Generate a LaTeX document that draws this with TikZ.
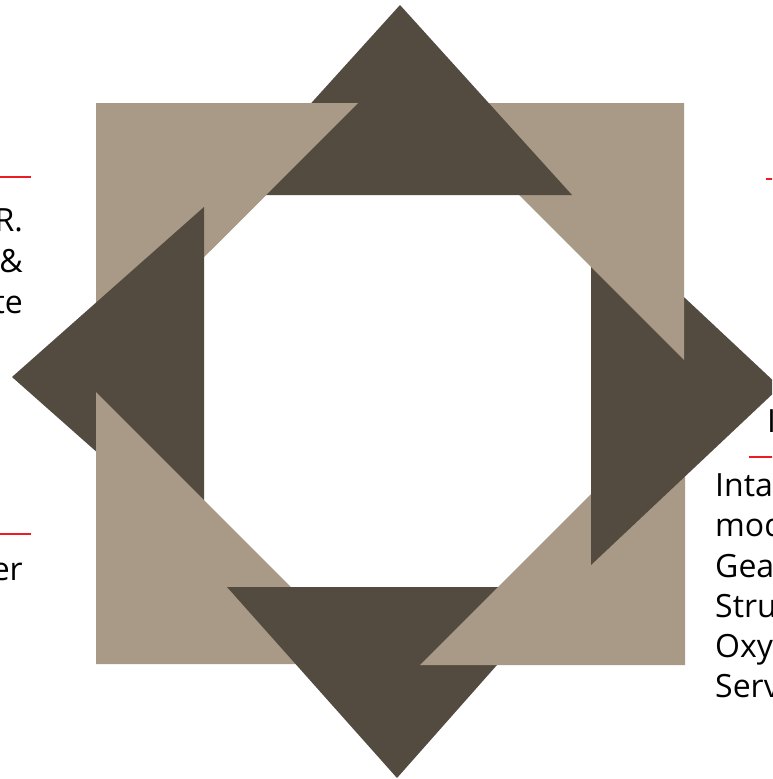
\documentclass[tikz,border=0pt]{standalone}
\usepackage{fontspec}
\setmainfont{Open Sans}
\definecolor{darkbrown}{RGB}{84,75,64}
\definecolor{lightbrown}{RGB}{168,154,135}
\definecolor{accentred}{RGB}{237,28,36}
\begin{document}
\begin{tikzpicture}[x=1pt,y=-1pt,
  dk/.style={fill=darkbrown},
  lt/.style={fill=lightbrown},
  redline/.style={draw=accentred,line width=1.6pt},
  txt/.style={inner sep=0pt,text=black,font=\fontsize{32}{40}\selectfont}]
\useasboundingbox (0,0) rectangle (772,779);
\clip (0,0) rectangle (772,779);
% pinwheel of triangles (drawn bottom to top)
\fill[lt] (96,103) -- (358,103) -- (96,365) -- cycle;      % light top-left
\fill[dk] (12,377) -- (204,207) -- (204,547) -- cycle;     % dark left
\fill[lt] (96,664) -- (96,392) -- (368,664) -- cycle;      % light bottom-left
\fill[dk] (397,778) -- (227,587) -- (566,587) -- cycle;    % dark bottom
\fill[lt] (685,665) -- (420,665) -- (685,400) -- cycle;    % light bottom-right
\fill[dk] (780,387) -- (591,210) -- (591,565) -- cycle;    % dark right
\fill[lt] (684,103) -- (684,360) -- (427,103) -- cycle;    % light top-right
\fill[dk] (400,5) -- (228,195) -- (572,195) -- cycle;      % dark top
\begin{scope}
  \clip (210,0) rectangle (772,779);
  \fill[lt] (96,103) -- (358,103) -- (96,365) -- cycle;    % light top-left over dark top
\end{scope}
% red rules
\coordinate (la1) at (0,177);   \coordinate (lb1) at (31,177);
\coordinate (la2) at (0,534);   \coordinate (lb2) at (31,534);
\coordinate (ra1) at (766,179); \coordinate (rb1) at (780,179);
\coordinate (ra2) at (749,457); \coordinate (rb2) at (780,457);
\draw[redline] (la1) -- (lb1);
\draw[redline] (la2) -- (lb2);
\draw[redline] (ra1) -- (rb1);
\draw[redline] (ra2) -- (rb2);
% left texts
\node[txt,anchor=base east] (l1) at (23,231) {R.};
\node[txt,anchor=base east] (l2) at (23,272) {\&};
\node[txt,anchor=base east] (l3) at (23,313) {te};
\node[txt,anchor=base east] (l4) at (23,580) {er};
% right heading and texts
\node[txt,anchor=base west] (h1) at (767,432) {I};
\node[txt,anchor=base west] (r1) at (715,496) {Intake};
\node[txt,anchor=base west] (r2) at (715,536) {module};
\node[txt,anchor=base west] (r3) at (715,577) {Gearbox};
\node[txt,anchor=base west] (r4) at (715,617) {Structure};
\node[txt,anchor=base west] (r5) at (715,657) {Oxygen};
\node[txt,anchor=base west] (r6) at (715,697) {Service};
\end{tikzpicture}
\end{document}
